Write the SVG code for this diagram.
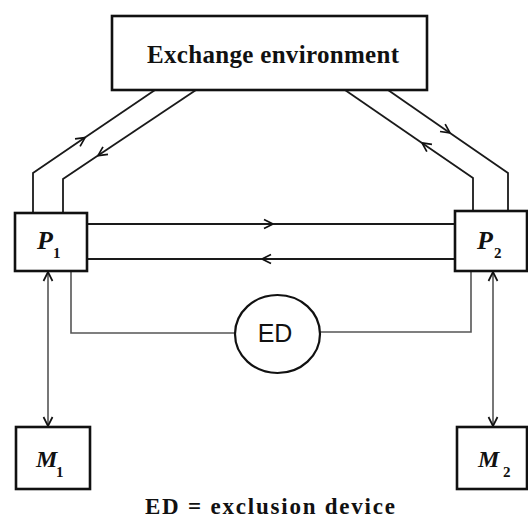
<svg xmlns="http://www.w3.org/2000/svg" width="528" height="520" viewBox="0 0 528 520">
<defs>
<style>
.box{fill:#fff;stroke:#111;stroke-width:2.6}
.ln{fill:none;stroke:#1a1a1a;stroke-width:1.8}
.lg{fill:none;stroke:#555;stroke-width:1.6}
.ser{font-family:"Liberation Serif","Times New Roman",serif;font-weight:bold;fill:#111}
.it{font-family:"Liberation Serif","Times New Roman",serif;font-weight:bold;font-style:italic;fill:#111}
.san{font-family:"Liberation Sans",Arial,sans-serif;fill:#111}
</style>
<marker id="ah" markerUnits="userSpaceOnUse" orient="auto" overflow="visible" markerWidth="12" markerHeight="12" refX="0" refY="0">
<path d="M-9,-4.5 L0,0 L-9,4.5" fill="none" stroke="#111" stroke-width="1.7"/>
</marker>
</defs>
<rect width="528" height="520" fill="#fff"/>
<g id="connectors">
<path class="ln" d="M33,213 V173 L85,137.6" marker-end="url(#ah)"/>
<path class="ln" d="M85,137.6 L155,90"/>
<path class="ln" d="M196,90 L98,155.6" marker-end="url(#ah)"/>
<path class="ln" d="M98,155.6 L63,179 V213"/>
<path class="ln" d="M388,90 L450,132.9" marker-end="url(#ah)"/>
<path class="ln" d="M450,132.9 L508,173 V211"/>
<path class="ln" d="M473,211 V178 L422,142.9" marker-end="url(#ah)"/>
<path class="ln" d="M422,142.9 L345,90"/>
<path class="ln" d="M87,224 H273" marker-end="url(#ah)"/>
<path class="ln" d="M273,224 H455"/>
<path class="ln" d="M455,259 H262" marker-end="url(#ah)"/>
<path class="ln" d="M262,259 H87"/>
<path class="lg" d="M48,349 V272" marker-end="url(#ah)"/>
<path class="lg" d="M48,349 V426" marker-end="url(#ah)"/>
<path class="lg" d="M493,349 V272" marker-end="url(#ah)"/>
<path class="lg" d="M493,349 V426" marker-end="url(#ah)"/>
<path class="lg" d="M71,271 V333 H235"/>
<path class="lg" d="M320,332 H471 V271"/>
</g>
<g id="exchange">
<rect class="box" x="112" y="16" width="315" height="74"/>
<text class="ser" x="273" y="63" font-size="25" text-anchor="middle" textLength="252" lengthAdjust="spacing">Exchange environment</text>
</g>
<g id="P1">
<rect class="box" x="15" y="213" width="72" height="58"/>
<text class="it" x="37" y="249" font-size="26">P</text>
<text class="ser" x="53" y="258" font-size="15">1</text>
</g>
<g id="P2">
<rect class="box" x="455" y="211" width="72" height="60"/>
<text class="it" x="477" y="249" font-size="26">P</text>
<text class="ser" x="494" y="258" font-size="15">2</text>
</g>
<g id="ED">
<ellipse cx="277.5" cy="334" rx="42.5" ry="39" fill="#fff" stroke="#111" stroke-width="2.2"/>
<text class="san" x="275" y="342" font-size="25" text-anchor="middle">ED</text>
</g>
<g id="M1">
<rect class="box" x="16" y="427" width="74" height="62"/>
<text class="it" x="36" y="467" font-size="24">M</text>
<text class="ser" x="56" y="477" font-size="15">1</text>
</g>
<g id="M2">
<rect class="box" x="457" y="427" width="70" height="62"/>
<text class="it" x="478" y="467" font-size="24">M</text>
<text class="ser" x="503" y="477" font-size="15">2</text>
</g>
<text class="ser" x="270" y="514" font-size="23" text-anchor="middle" textLength="250" lengthAdjust="spacing">ED = exclusion device</text>
</svg>
